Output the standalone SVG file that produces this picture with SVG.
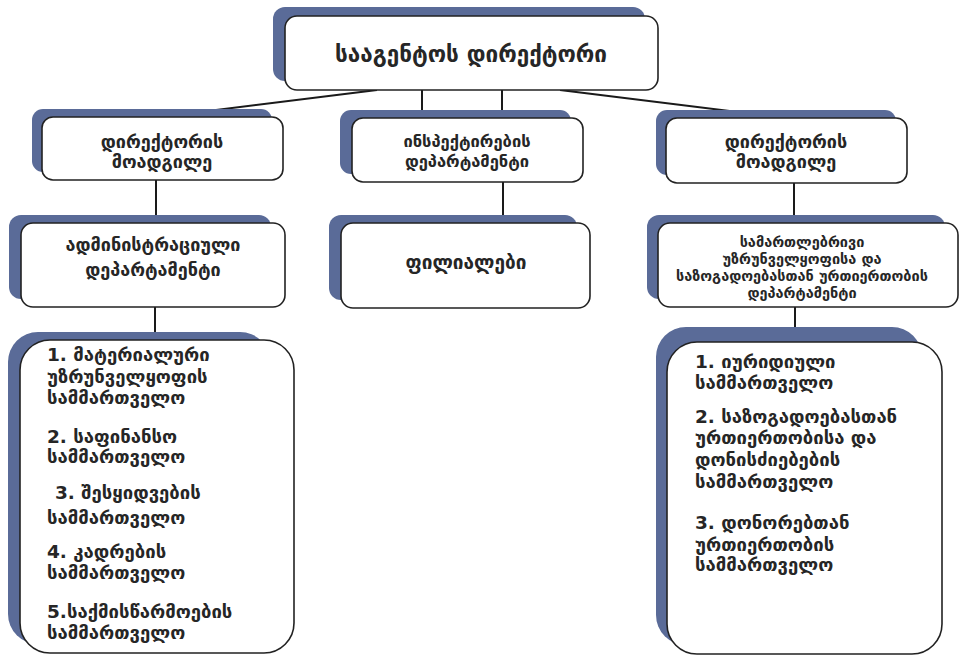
<svg xmlns="http://www.w3.org/2000/svg" width="966" height="662" viewBox="0 0 966 662">
<style>
.sh{fill:#5a6b98}
.bx{fill:#ffffff;stroke:#222;stroke-width:1.6}
.t{font-family:"DejaVu Sans",sans-serif;fill:#262626;font-weight:bold}
.c{text-anchor:middle}
.ln{stroke:#1a1a1a;stroke-width:2;fill:none}
.l2{font-size:18px}
.li{font-size:18.5px}
</style>
<rect width="966" height="662" fill="#ffffff"/>
<g id="connectors">
<line class="ln" x1="377" y1="90" x2="160" y2="117"/>
<line class="ln" x1="560" y1="90" x2="787" y2="118"/>
<line class="ln" x1="422" y1="90" x2="422" y2="118"/>
<line class="ln" x1="502" y1="90" x2="502" y2="118"/>
<line class="ln" x1="156" y1="180" x2="156" y2="223"/>
<line class="ln" x1="503" y1="182" x2="503" y2="223"/>
<line class="ln" x1="794" y1="183" x2="794" y2="223"/>
<line class="ln" x1="155" y1="307" x2="155" y2="340"/>
<line class="ln" x1="795" y1="307" x2="795" y2="342"/>
</g>
<g id="director">
<rect class="sh" x="273" y="7" width="372" height="74" rx="12"/>
<rect class="bx" x="285" y="16" width="373" height="74" rx="12"/>
<text class="t c" x="471" y="62" font-size="22.5">სააგენტოს დირექტორი</text>
</g>
<g id="deputy-left">
<rect class="sh" x="32" y="109" width="240" height="63" rx="11"/>
<rect class="bx" x="42" y="117" width="241" height="63" rx="11"/>
<text class="t c l2" x="162" y="148">დირექტორის</text>
<text class="t c l2" x="162" y="168">მოადგილე</text>
</g>
<g id="inspection">
<rect class="sh" x="340" y="110" width="231" height="64" rx="11"/>
<rect class="bx" x="352" y="118" width="231" height="64" rx="11"/>
<text class="t c" x="467" y="147" font-size="16.5">ინსპექტირების</text>
<text class="t c" x="467" y="167" font-size="16.5">დეპარტამენტი</text>
</g>
<g id="deputy-right">
<rect class="sh" x="656" y="110" width="240" height="65" rx="11"/>
<rect class="bx" x="666" y="118" width="241" height="65" rx="11"/>
<text class="t c l2" x="786" y="148">დირექტორის</text>
<text class="t c l2" x="786" y="168">მოადგილე</text>
</g>
<g id="admin-dept">
<rect class="sh" x="9" y="215" width="262" height="84" rx="12"/>
<rect class="bx" x="21" y="223" width="264" height="84" rx="12"/>
<text class="t c l2" x="153" y="251">ადმინისტრაციული</text>
<text class="t c l2" x="153" y="276">დეპარტამენტი</text>
</g>
<g id="branches">
<rect class="sh" x="329" y="215" width="248" height="85" rx="12"/>
<rect class="bx" x="341" y="223" width="249" height="85" rx="12"/>
<text class="t c" x="466" y="269" font-size="19">ფილიალები</text>
</g>
<g id="legal-dept">
<rect class="sh" x="647" y="215" width="298" height="84" rx="12"/>
<rect class="bx" x="658" y="223" width="300" height="84" rx="12"/>
<text class="t c" x="802" y="247" font-size="14.5">სამართლებრივი</text>
<text class="t c" x="802" y="264" font-size="14.5">უზრუნველყოფისა და</text>
<text class="t c" x="802" y="281" font-size="14.5">საზოგადოებასთან ურთიერთობის</text>
<text class="t c" x="802" y="298" font-size="14.5">დეპარტამენტი</text>
</g>
<g id="admin-units">
<rect class="sh" x="8" y="332" width="262" height="312" rx="30"/>
<rect class="bx" x="20" y="340" width="274" height="313" rx="30"/>
<text class="t li">
<tspan x="47" y="361">1. მატერიალური</tspan>
<tspan x="47" y="383">უზრუნველყოფის</tspan>
<tspan x="47" y="404">სამმართველო</tspan>
<tspan x="47" y="443">2. საფინანსო</tspan>
<tspan x="47" y="463">სამმართველო</tspan>
<tspan x="55" y="499">3. შესყიდვების</tspan>
<tspan x="47" y="524">სამმართველო</tspan>
<tspan x="47" y="558">4. კადრების</tspan>
<tspan x="47" y="579">სამმართველო</tspan>
<tspan x="47" y="618">5.საქმისწარმოების</tspan>
<tspan x="47" y="639">სამმართველო</tspan>
</text>
</g>
<g id="legal-units">
<rect class="sh" x="656" y="327" width="266" height="318" rx="30"/>
<rect class="bx" x="667" y="342" width="275" height="312" rx="30"/>
<text class="t li">
<tspan x="695" y="368">1. იურიდიული</tspan>
<tspan x="695" y="389">სამმართველო</tspan>
<tspan x="695" y="423">2. საზოგადოებასთან</tspan>
<tspan x="695" y="444">ურთიერთობისა და</tspan>
<tspan x="695" y="466">დონისძიებების</tspan>
<tspan x="695" y="488">სამმართველო</tspan>
<tspan x="695" y="529">3. დონორებთან</tspan>
<tspan x="695" y="551">ურთიერთობის</tspan>
<tspan x="695" y="571">სამმართველო</tspan>
</text>
</g>
</svg>
